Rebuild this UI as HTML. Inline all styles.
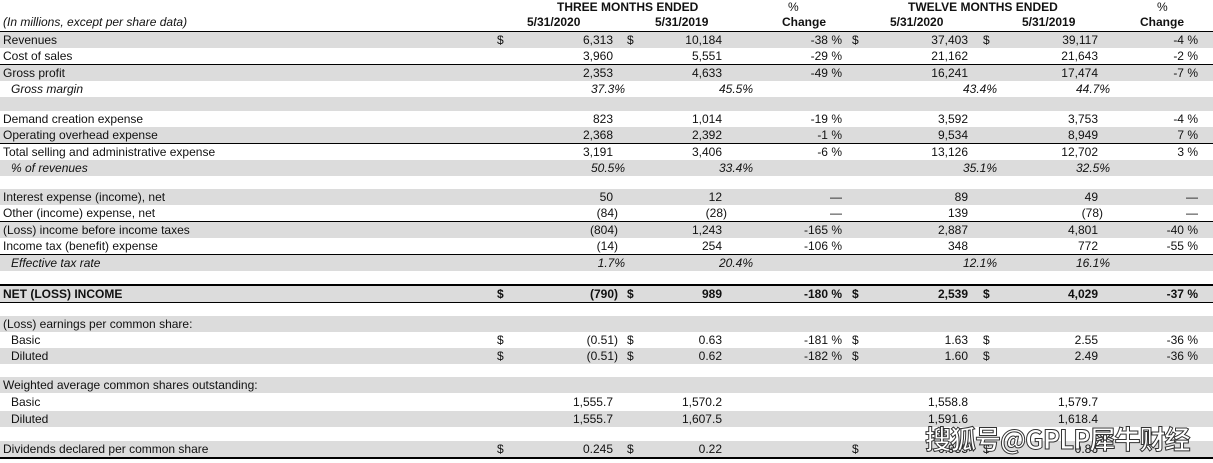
<!DOCTYPE html>
<html><head><meta charset="utf-8"><style>
body{margin:0;width:1213px;height:463px;background:#fff;position:relative;overflow:hidden;font-family:"Liberation Sans",Arial,sans-serif;font-size:12px;color:#111}
.r{position:absolute;left:0;width:1213px;height:16px;line-height:16px}
.s{background:#dcdcdc}
.r span{position:absolute;white-space:nowrap}
.l{left:3px}.l2{left:11px}
.d1{left:497px}.d2{left:627px}.d3{left:852px}.d4{left:983px}
.v1{right:600px}.v1p{right:595px}.v2{right:491px}.v2p{right:486px}.pc{right:371px}.v3{right:245px}.v3p{right:240px}.v4{right:115px}.v4p{right:110px}.p2{right:15px}
.g1{right:588px}.g2{right:460px}.g3{right:216px}.g4{right:103px}
i{font-style:italic}
.ln{position:absolute;left:0;width:1213px;height:1px;background:#000}
.h{position:absolute;font-weight:bold;white-space:nowrap}
.b{font-weight:bold}
.wm{position:absolute;left:925px;top:420px;font-family:"Noto Sans CJK SC","WenQuanYi Zen Hei",sans-serif;font-size:26px;font-weight:bold;color:#fff;-webkit-text-stroke:1px #333;letter-spacing:-1px;white-space:nowrap}
</style></head><body>
<div class="h" style="left:557px;top:0">THREE MONTHS ENDED</div>
<div class="h" style="left:788px;top:0;font-weight:normal">%</div>
<div class="h" style="left:908px;top:0">TWELVE MONTHS ENDED</div>
<div class="h" style="left:1157px;top:0;font-weight:normal">%</div>
<div class="h" style="left:3px;top:15px;font-weight:normal;font-style:italic">(In millions, except per share data)</div>
<div class="h" style="left:527px;top:15px">5/31/2020</div>
<div class="h" style="left:655px;top:15px">5/31/2019</div>
<div class="h" style="left:782px;top:15px">Change</div>
<div class="h" style="left:890px;top:15px">5/31/2020</div>
<div class="h" style="left:1022px;top:15px">5/31/2019</div>
<div class="h" style="left:1140px;top:15px">Change</div>

<div class="r s" style="top:32px"><span class="l">Revenues</span><span class="d1">$</span><span class="v1">6,313</span><span class="d2">$</span><span class="v2">10,184</span><span class="pc">-38 %</span><span class="d3">$</span><span class="v3">37,403</span><span class="d4">$</span><span class="v4">39,117</span><span class="p2">-4 %</span></div>
<div class="r" style="top:48px"><span class="l">Cost of sales</span><span class="v1">3,960</span><span class="v2">5,551</span><span class="pc">-29 %</span><span class="v3">21,162</span><span class="v4">21,643</span><span class="p2">-2 %</span></div>
<div class="r s" style="top:65px"><span class="l">Gross profit</span><span class="v1">2,353</span><span class="v2">4,633</span><span class="pc">-49 %</span><span class="v3">16,241</span><span class="v4">17,474</span><span class="p2">-7 %</span></div>
<div class="r" style="top:81px"><span class="l2"><i>Gross margin</i></span><span class="g1"><i>37.3%</i></span><span class="g2"><i>45.5%</i></span><span class="g3"><i>43.4%</i></span><span class="g4"><i>44.7%</i></span></div>
<div class="r s" style="top:97px;height:14px"></div>
<div class="r" style="top:111px"><span class="l">Demand creation expense</span><span class="v1">823</span><span class="v2">1,014</span><span class="pc">-19 %</span><span class="v3">3,592</span><span class="v4">3,753</span><span class="p2">-4 %</span></div>
<div class="r s" style="top:127px"><span class="l">Operating overhead expense</span><span class="v1">2,368</span><span class="v2">2,392</span><span class="pc">-1 %</span><span class="v3">9,534</span><span class="v4">8,949</span><span class="p2">7 %</span></div>
<div class="r" style="top:144px"><span class="l">Total selling and administrative expense</span><span class="v1">3,191</span><span class="v2">3,406</span><span class="pc">-6 %</span><span class="v3">13,126</span><span class="v4">12,702</span><span class="p2">3 %</span></div>
<div class="r s" style="top:160px"><span class="l2"><i>% of revenues</i></span><span class="g1"><i>50.5%</i></span><span class="g2"><i>33.4%</i></span><span class="g3"><i>35.1%</i></span><span class="g4"><i>32.5%</i></span></div>
<div class="r" style="top:176px;height:13px"></div>
<div class="r s" style="top:189px"><span class="l">Interest expense (income), net</span><span class="v1">50</span><span class="v2">12</span><span class="pc">—</span><span class="v3">89</span><span class="v4">49</span><span class="p2">—</span></div>
<div class="r" style="top:205px"><span class="l">Other (income) expense, net</span><span class="v1p">(84)</span><span class="v2p">(28)</span><span class="pc">—</span><span class="v3">139</span><span class="v4p">(78)</span><span class="p2">—</span></div>
<div class="r s" style="top:222px"><span class="l">(Loss) income before income taxes</span><span class="v1p">(804)</span><span class="v2">1,243</span><span class="pc">-165 %</span><span class="v3">2,887</span><span class="v4">4,801</span><span class="p2">-40 %</span></div>
<div class="r" style="top:238px"><span class="l">Income tax (benefit) expense</span><span class="v1p">(14)</span><span class="v2">254</span><span class="pc">-106 %</span><span class="v3">348</span><span class="v4">772</span><span class="p2">-55 %</span></div>
<div class="r s" style="top:255px"><span class="l2"><i>Effective tax rate</i></span><span class="g1"><i>1.7%</i></span><span class="g2"><i>20.4%</i></span><span class="g3"><i>12.1%</i></span><span class="g4"><i>16.1%</i></span></div>
<div class="r s b" style="top:286px"><span class="l">NET (LOSS) INCOME</span><span class="d1">$</span><span class="v1p">(790)</span><span class="d2">$</span><span class="v2">989</span><span class="pc">-180 %</span><span class="d3">$</span><span class="v3">2,539</span><span class="d4">$</span><span class="v4">4,029</span><span class="p2">-37 %</span></div>
<div class="r s" style="top:316px"><span class="l">(Loss) earnings per common share:</span></div>
<div class="r" style="top:332px"><span class="l2">Basic</span><span class="d1">$</span><span class="v1p">(0.51)</span><span class="d2">$</span><span class="v2">0.63</span><span class="pc">-181 %</span><span class="d3">$</span><span class="v3">1.63</span><span class="d4">$</span><span class="v4">2.55</span><span class="p2">-36 %</span></div>
<div class="r s" style="top:348px"><span class="l2">Diluted</span><span class="d1">$</span><span class="v1p">(0.51)</span><span class="d2">$</span><span class="v2">0.62</span><span class="pc">-182 %</span><span class="d3">$</span><span class="v3">1.60</span><span class="d4">$</span><span class="v4">2.49</span><span class="p2">-36 %</span></div>
<div class="r s" style="top:377px"><span class="l">Weighted average common shares outstanding:</span></div>
<div class="r" style="top:394px"><span class="l2">Basic</span><span class="v1">1,555.7</span><span class="v2">1,570.2</span><span class="v3">1,558.8</span><span class="v4">1,579.7</span></div>
<div class="r s" style="top:411px"><span class="l2">Diluted</span><span class="v1">1,555.7</span><span class="v2">1,607.5</span><span class="v3">1,591.6</span><span class="v4">1,618.4</span></div>
<div class="r s" style="top:441px"><span class="l">Dividends declared per common share</span><span class="d1">$</span><span class="v1">0.245</span><span class="d2">$</span><span class="v2">0.22</span><span class="d3">$</span><span class="v3">0.955</span><span class="d4">$</span><span class="v4">0.86</span></div>

<div class="ln" style="top:31px"></div>
<div class="ln" style="top:64px"></div>
<div class="ln" style="top:143px"></div>
<div class="ln" style="top:221px"></div>
<div class="ln" style="top:254px"></div>
<div class="ln" style="top:284px;height:2px"></div>
<div class="ln" style="top:302px"></div>
<div class="ln" style="top:457px;height:2px"></div>
<div class="wm">搜狐号@GPLP犀牛财经</div>
</body></html>
